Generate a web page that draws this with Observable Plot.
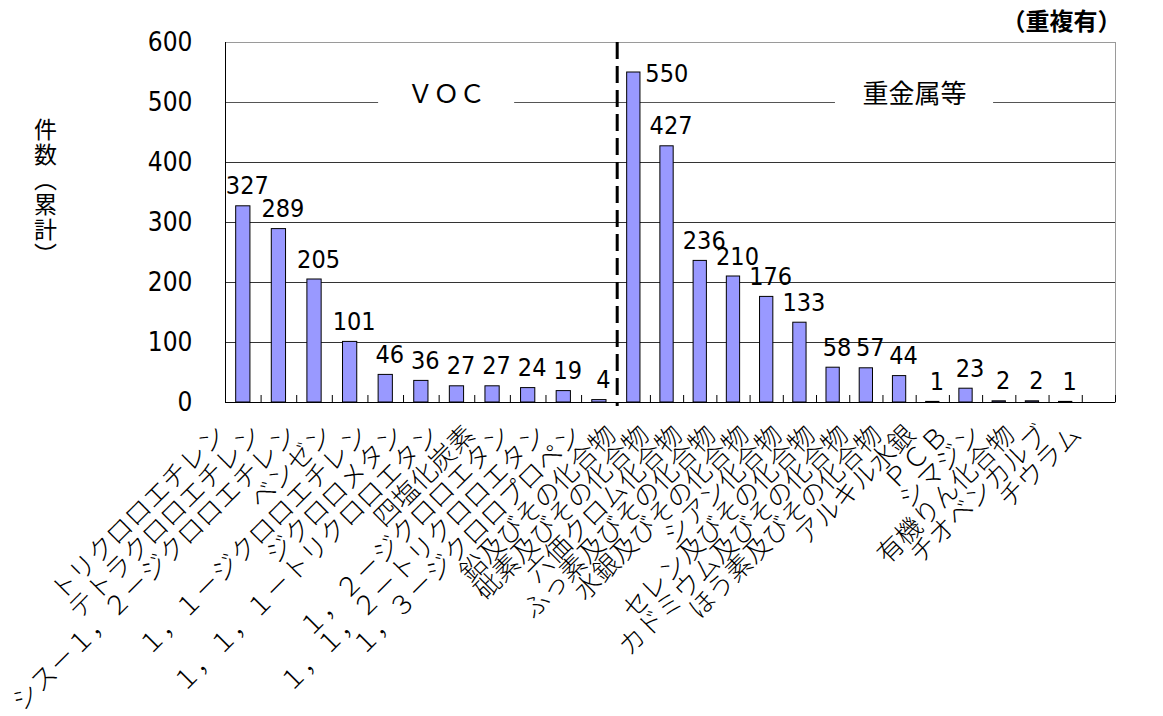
<!DOCTYPE html>
<html>
<head>
<meta charset="utf-8">
<script src="https://cdn.jsdelivr.net/npm/d3@7"></script>
<script src="https://cdn.jsdelivr.net/npm/@observablehq/plot@0.6"></script>
<style>
  html, body { margin: 0; padding: 0; background: #ffffff; }
  #chart { width: 1163px; height: 716px; overflow: hidden; }
</style>
</head>
<body>
<div id="chart"></div>
<script>
// ---------- data ----------
const vocCategories = [
  "トリクロロエチレン",
  "テトラクロロエチレン",
  "シス－１，２－ジクロロエチレン",
  "ベンゼン",
  "１，１－ジクロロエチレン",
  "ジクロロメタン",
  "１，１，１－トリクロロエタン",
  "四塩化炭素",
  "１，２－ジクロロエタン",
  "１，１，２－トリクロロエタン",
  "１，３－ジクロロプロペン"
];
const vocValues = [327, 289, 205, 101, 46, 36, 27, 27, 24, 19, 4];

const metalCategories = [
  "鉛及びその化合物",
  "砒素及びその化合物",
  "六価クロム化合物",
  "ふっ素及びその化合物",
  "水銀及びその化合物",
  "シアン化合物",
  "セレン及びその化合物",
  "カドミウム及びその化合物",
  "ほう素及びその化合物",
  "アルキル水銀",
  "ＰＣＢ",
  "シマジン",
  "有機りん化合物",
  "チオベンカルブ",
  "チウラム"
];
const metalValues = [550, 427, 236, 210, 176, 133, 58, 57, 44, 1, 23, 2, 2, 1, null];

const groupLabels = ["ＶＯＣ", "重金属等"];
const yTicks = [0, 100, 200, 300, 400, 500, 600];
const yLabel = "件数（累計）";
const noteText = "（重複有）";

// ---------- table ----------
const rows = [
  ...vocCategories.map((c, k) => ({cat: c, value: vocValues[k], group: "VOC"})),
  ...metalCategories.map((c, k) => ({cat: c, value: metalValues[k], group: "metal"}))
].map((d, i) => ({...d, i}));
const nVoc = vocCategories.length;
const nAll = rows.length;
const withValue = rows.filter(d => d.value != null);
const maxValue = d3.max(withValue, d => d.value);

// vertical (stacked) form of the y title: one character per line, brackets in vertical form
const yLabelVertical = Array.from(yLabel)
  .map(ch => ch === "（" ? "︵" : ch === "）" ? "︶" : ch)
  .join("\n");

const CJK = "'Noto Sans CJK JP', 'Noto Sans CJK SC', sans-serif";
const NUM = "'Liberation Sans Narrow', 'DejaVu Sans Condensed', 'Liberation Sans', sans-serif";

// layout
const W = 1163, H = 716;
const mL = 225, mR = 48, mT = 42, mB = 314;
const splitPx = 616.7; // the VOC and heavy-metal sections have different category widths

const plot = Plot.plot({
  width: W,
  height: H,
  marginLeft: mL,
  marginRight: mR,
  marginTop: mT,
  marginBottom: mB,
  style: {fontFamily: NUM, fontSize: "26px", background: "#ffffff", color: "#000", overflow: "visible"},
  x: {type: "linear", domain: [0, nVoc, nAll], range: [mL, splitPx, W - mR], axis: null},
  y: {domain: [0, 600], ticks: yTicks, tickSize: 0, tickPadding: 33, label: null, tickFormat: d => String(d)},
  marks: [
    Plot.frame({stroke: "#9a9a9a"}),
    // gridlines
    Plot.ruleY(yTicks.filter(v => v > 0 && v < 500), {stroke: "#333333", strokeWidth: 1}),
    Plot.ruleY([[0, 4.3], [8.12, 17.57], [22.33, nAll]], {y: () => 500, x1: d => d[0], x2: d => d[1], stroke: "#555555", strokeWidth: 1}),
    // group labels
    Plot.text(groupLabels, {x: [6.2, 19.95], y: [500, 500], text: d => d, dy: -8, fontFamily: CJK, fontSize: 26, fill: "#000"}),
    // bars
    Plot.rectY(withValue, {x1: d => d.i + 0.3, x2: d => d.i + 0.7, y: "value", fill: "#9999ff", stroke: "#000", strokeWidth: 1}),
    // value labels
    Plot.text(withValue.filter(d => d.value !== maxValue), {x: d => d.i + 0.5, y: "value", text: d => String(d.value), dx: 4, dy: -20, fontFamily: NUM, fontSize: 25, letterSpacing: "-0.6px"}),
    Plot.text(withValue.filter(d => d.value === maxValue), {x: d => d.i + 0.5, y: "value", text: d => String(d.value), dx: 33, dy: 1, fontFamily: NUM, fontSize: 25, letterSpacing: "-0.6px"}),
    // axes lines
    Plot.ruleX([0], {stroke: "#000", strokeWidth: 1}),
    Plot.ruleY([0], {stroke: "#000", strokeWidth: 1}),
    // category boundary ticks (inside)
    Plot.ruleX(d3.range(1, nAll + 1).filter(k => k !== nVoc), {y1: 0, y2: 0, insetTop: -7, stroke: "#000", strokeWidth: 1}),
    // separator
    Plot.ruleX([nVoc], {stroke: "#000", strokeWidth: 3, strokeDasharray: "17,7", insetBottom: -4}),
    // category labels
    Plot.text(rows, {x: d => d.i + 0.5, y: () => 0, text: "cat", rotate: -45, textAnchor: "end", dx: -22, dy: 28, fontFamily: CJK, fontSize: 26, fontWeight: 300}),
    // note
    Plot.text([noteText], {frameAnchor: "top-right", text: d => d, textAnchor: "end", lineAnchor: "middle", dx: 6, dy: -20, fontFamily: CJK, fontSize: 24, fontWeight: "bold"}),
    // y title (stacked vertically)
    Plot.text([yLabelVertical], {frameAnchor: "left", text: d => d, textAnchor: "middle", lineAnchor: "middle", lineHeight: 1.08, dx: -180, dy: -30, fontFamily: CJK, fontSize: 23})
  ]
});

document.getElementById("chart").appendChild(plot);
</script>
</body>
</html>
